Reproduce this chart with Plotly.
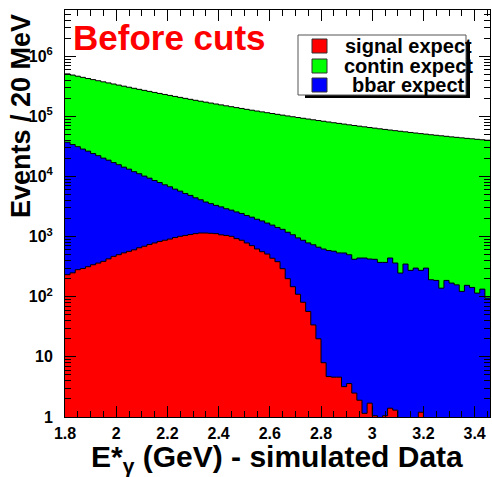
import numpy as np
import plotly.graph_objects as go

# 20 MeV bins of E*_gamma starting at 1.80 GeV
bin_start = 1.80
bin_width = 0.02

signal = [233, 250, 282, 295, 316, 341, 363, 388, 427, 470,
          501, 537, 569, 603, 653, 692, 741, 785, 832, 871,
          912, 966, 1012, 1047, 1084, 1122, 1150, 1148, 1135, 1122,
          1072, 1047, 1012, 927, 871, 785, 708, 624, 562, 513,
          437, 383, 293, 200, 147, 110, 81, 57, 34, 20,
          8.0, 4.7, 4.6, 4.6, 3.2, 3.6, 2.5, 1.9, 1.15, 1.7,
          1.05, 0, 1.05, 1.4, 1.3, 0, 0, 0, 0, 1.2,
          0, 0, 0, 0, 0, 0, 0, 0, 0, 0,
          0, 0, 0]

bbar = [36970, 33800, 31100, 28350, 26150, 23800, 21900, 19850, 18300, 16600,
        15250, 13800, 12700, 11450, 10500, 9480, 8650, 7800, 7120, 6420,
        5850, 5210, 4710, 4180, 3770, 3310, 2960, 2620, 2410, 2190,
        2060, 1870, 1750, 1650, 1560, 1465, 1400, 1325, 1265, 1170,
        1120, 1040, 1030, 985, 930, 845, 790, 730, 700, 648,
        615, 583, 568, 532, 532, 497, 418, 439, 440, 423,
        419, 373, 372, 440, 363, 248, 350, 275, 300, 274,
        300, 192, 187, 139, 187, 169, 158, 123, 155, 143,
        115, 134, 95]

contin = [472800, 453300, 435300, 417800, 401200, 385400, 370200, 355800, 341900, 328800,
          316100, 304000, 292500, 281500, 271000, 260900, 251300, 242000, 233200, 224700,
          216700, 208900, 201500, 194400, 187600, 181000, 174800, 168900, 163200, 157600,
          152300, 147200, 142400, 137600, 133200, 128900, 124800, 120900, 117200, 113600,
          110200, 106900, 103700, 100600, 97700, 94900, 92200, 89700, 87200, 84700,
          82500, 80200, 78000, 76000, 74000, 72000, 70200, 68400, 66700, 65000,
          63400, 61900, 60400, 58900, 57600, 56400, 55100, 53800, 52600, 51500,
          50400, 49400, 48400, 47500, 46500, 45500, 44700, 43900, 43000, 42300,
          41500, 40800, 40100]

x_tickvals = [1.8, 2.0, 2.2, 2.4, 2.6, 2.8, 3.0, 3.2, 3.4]
x_ticktext = ["1.8", "2", "2.2", "2.4", "2.6", "2.8", "3", "3.2", "3.4"]
y_tickvals = [1, 10, 100, 1e3, 1e4, 1e5, 1e6]
y_ticktext = ["1", "10", "10<sup>2</sup>", "10<sup>3</sup>", "10<sup>4</sup>",
              "10<sup>5</sup>", "10<sup>6</sup>"]

legend_names = ["signal expect", "contin expect", "bbar expect"]
colors = {"signal": "#ff0000", "contin": "#00ff00", "bbar": "#0000ff"}

n = len(signal)
lo = bin_start + bin_width * np.arange(n)
centers = lo + bin_width / 2
edges = np.append(lo, lo[-1] + bin_width)

W, H = 492, 477
ML, MR, MT, MB = 65, 2, 10, 60
PW, PH = W - ML - MR, H - MT - MB


def px(xp):
    return (xp - ML) / PW


def py(yp):
    return (H - MB - yp) / PH


FONT = "Liberation Sans, Arial, Helvetica, sans-serif"

fig = go.Figure()
for name, vals in (("signal", signal), ("bbar", bbar), ("contin", contin)):
    fig.add_bar(x=centers, y=vals, width=bin_width, marker_color=colors[name],
                marker_line_width=0, name=name, hoverinfo="skip")

# black outline on top of each stacked histogram
cum = np.zeros(n)
for vals in (signal, bbar, contin):
    cum = cum + np.array(vals, dtype=float)
    ystep = np.where(cum > 0, cum, 1e-3)
    fig.add_scatter(x=edges, y=np.append(ystep, ystep[-1]), mode="lines",
                    line=dict(color="black", width=1, shape="hv"),
                    hoverinfo="skip", showlegend=False)

minor_y = [m * 10 ** k for k in range(0, 7) for m in range(2, 10)]

fig.update_layout(
    width=W, height=H,
    margin=dict(l=ML, r=MR, t=MT, b=MB),
    barmode="stack", bargap=0,
    showlegend=False,
    plot_bgcolor="white", paper_bgcolor="white",
    font=dict(family=FONT, color="black"),
    xaxis=dict(range=[1.8, 3.46], tickmode="array", tickvals=x_tickvals,
               ticktext=x_ticktext, ticks="inside", ticklen=11, tickwidth=1,
               tickcolor="black", showline=True, linecolor="black", linewidth=1,
               mirror="ticks", showgrid=False, zeroline=False,
               tickfont=dict(family=FONT, size=16, weight="bold"),
               ticklabelstandoff=2,
               minor=dict(ticks="inside", ticklen=6, tick0=1.8, dtick=0.05,
                          tickcolor="black", showgrid=False)),
    yaxis=dict(type="log", range=[0, 6.77], tickmode="array",
               tickvals=y_tickvals, ticktext=y_ticktext, ticks="inside",
               ticklen=11, tickwidth=1, tickcolor="black", showline=True,
               linecolor="black", linewidth=1, mirror="ticks", showgrid=False,
               zeroline=False,
               tickfont=dict(family=FONT, size=16, weight="bold"),
               ticklabelstandoff=8,
               minor=dict(ticks="inside", ticklen=6, tickmode="array",
                          tickvals=minor_y, tickcolor="black", showgrid=False)),
)

# legend box with drop shadow
shapes = [
    dict(type="rect", xref="paper", yref="paper", x0=px(305), x1=px(470),
         y0=py(98), y1=py(43), fillcolor="black", line=dict(width=0)),
    dict(type="rect", xref="paper", yref="paper", x0=px(298), x1=px(466),
         y0=py(95), y1=py(35), fillcolor="white", line=dict(color="#555555", width=1)),
]
rows = [("signal", 46), ("contin", 66), ("bbar", 85)]
for name, yc in rows:
    shapes.append(dict(type="rect", xref="paper", yref="paper",
                       x0=px(312), x1=px(327), y0=py(yc + 7), y1=py(yc - 7),
                       fillcolor=colors[name], line=dict(color="#333333", width=1)))
fig.update_layout(shapes=shapes)

annotations = []
for label, (name, yc) in zip(legend_names, rows):
    annotations.append(dict(text="<b>%s</b>" % label, xref="paper", yref="paper",
                            x=px(408), y=py(yc), xanchor="center", yanchor="middle",
                            showarrow=False, font=dict(family=FONT, size=20, color="black")))
annotations += [
    dict(text="<b>Before cuts</b>", xref="paper", yref="paper", x=px(71), y=py(37),
         xanchor="left", yanchor="middle", showarrow=False,
         font=dict(family=FONT, size=35, color="#ff0000")),
    dict(text="<b>Events / 20 MeV</b>", xref="paper", yref="paper", x=px(21), y=py(116),
         xanchor="center", yanchor="middle", textangle=-90, showarrow=False,
         font=dict(family=FONT, size=27, color="black")),
    dict(text="<b>E*<sub>γ</sub> (GeV) - simulated Data</b>", xref="paper", yref="paper",
         x=px(277), y=py(458), xanchor="center", yanchor="middle", showarrow=False,
         font=dict(family=FONT, size=30, color="black")),
]
fig.update_layout(annotations=annotations)

fig.write_html("out.html")
